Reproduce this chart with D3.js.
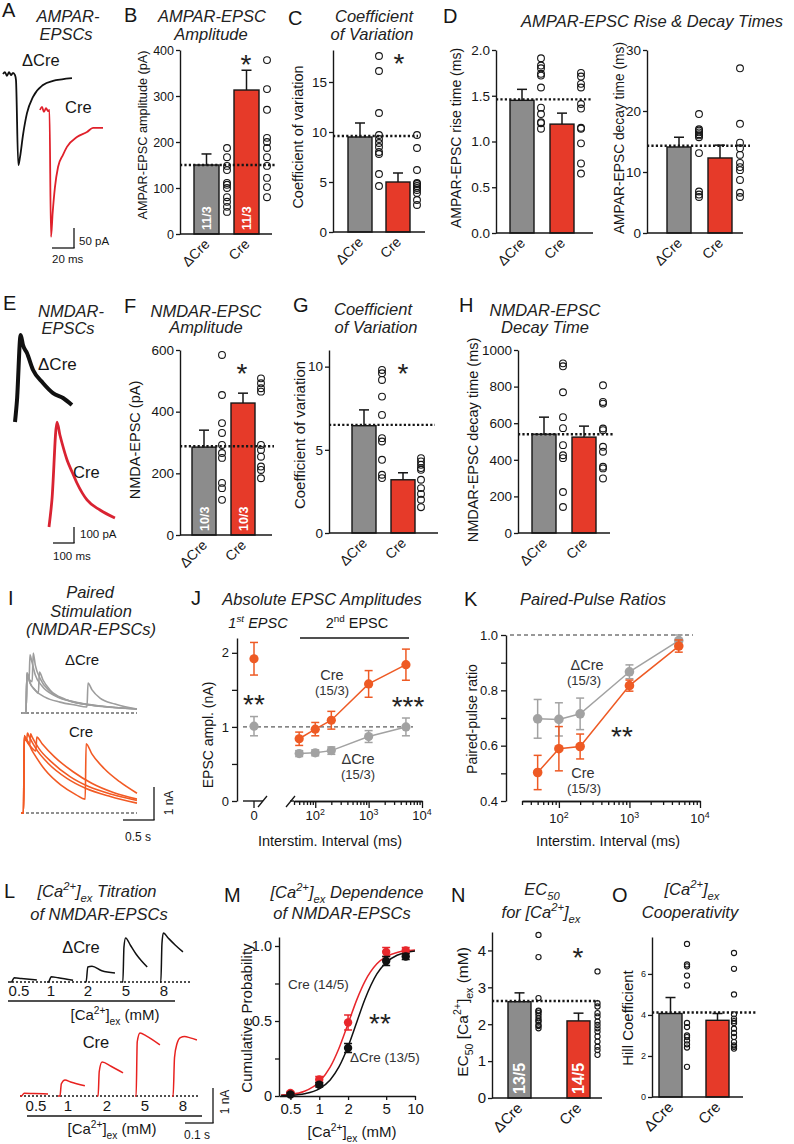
<!DOCTYPE html>
<html><head><meta charset="utf-8">
<script src="https://cdn.jsdelivr.net/npm/d3@7"></script>
<style>
body{margin:0;background:#fff}
svg{display:block}
text{font-family:'Liberation Sans',Arial,Helvetica,sans-serif}
</style>
</head><body>
<script>
// ================= DATA =================
const groups = ["ΔCre", "Cre"];

// B  AMPAR-EPSC amplitude (pA)
const ampaAmpTicks = [0,100,200,300,400];
const ampaAmpMean = [150, 313];
const ampaAmpSem = [24, 43];
const ampaAmpDCre = [187,167,148,139,111,107,100,80,70,59,48];
const ampaAmpCre = [378,315,270,209,200,187,167,148,122,102,80];
// C  coefficient of variation (AMPAR)
const ampaCvTicks = [0,5,10,15];
const ampaCvMean = [9.5, 5.0];
const ampaCvSem = [1.4, 0.9];
const ampaCvDCre = [17.6,16.1,11.9,9.7,9.3,8.9,8.5,8.0,7.8,5.8,4.6];
const ampaCvCre = [9.7,8.4,6.2,4.9,4.8,4.6,4.4,4.2,3.9,3.2,2.7];
// D  rise time (ms)
const riseTicks = [0,0.5,1,1.5,2];
const riseMean = [1.45, 1.19];
const riseSem = [0.12, 0.12];
const riseDCre = [1.91,1.83,1.80,1.74,1.72,1.59,1.37,1.30,1.21,1.20,1.14];
const riseCre = [1.75,1.71,1.63,1.59,1.41,1.36,1.15,1.14,0.98,0.76,0.65];
// D  decay time (ms)
const decayTicks = [0,10,20,30];
const decayMean = [14.1, 12.3];
const decaySem = [1.6, 2.1];
const decayDCre = [19.5,17.0,16.8,16.5,16.2,16.0,15.7,13.1,6.8,6.3,5.9];
const decayCre = [27.0,17.9,14.8,13.9,12.8,11.5,10.8,10.3,8.7,6.6,5.9];
// F  NMDA-EPSC amplitude (pA)
const nmdaAmpTicks = [0,200,400,600];
const nmdaAmpMean = [285, 428];
const nmdaAmpSem = [55, 32];
const nmdaAmpDCre = [584,454,363,331,292,266,250,169,152,114];
const nmdaAmpCre = [508,492,476,465,292,276,254,222,211,184];
// G  coefficient of variation (NMDAR)
const nmdaCvTicks = [0,5,10];
const nmdaCvMean = [6.45, 3.2];
const nmdaCvSem = [0.95, 0.42];
const nmdaCvDCre = [9.8,9.6,9.2,8.2,7.1,5.7,5.5,4.4,3.5,3.3];
const nmdaCvCre = [4.5,4.3,4.1,3.9,3.8,3.2,2.7,2.35,2.0,1.55];
// H  NMDAR-EPSC decay time (ms)
const nmdaDecayTicks = [0,200,400,600,800,1000];
const nmdaDecayMean = [540, 524];
const nmdaDecaySem = [93, 60];
const nmdaDecayDCre = [927,911,769,633,573,480,425,409,224,142];
const nmdaDecayCre = [807,716,707,571,562,471,444,362,353,298];
// J  absolute EPSC amplitudes (nA)
const intervals = [50,100,200,1000,5000];
const firstEpscMean = [1.01, 1.92];   // [ΔCre, Cre]
const firstEpscSem = [0.13, 0.22];
const secondDCre = [0.64,0.65,0.68,0.87,1.00];
const secondDCreSem = [0.04,0.04,0.05,0.08,0.12];
const secondCre = [0.84,0.97,1.09,1.58,1.84];
const secondCreSem = [0.09,0.09,0.12,0.18,0.21];
const logMajor = [100,1000,10000];
// K  paired-pulse ratios
const pprDCre = [0.697,0.695,0.715,0.867,0.98];
const pprDCreSem = [0.07,0.06,0.057,0.025,0.02];
const pprCre = [0.503,0.589,0.597,0.817,0.96];
const pprCreSem = [0.062,0.08,0.045,0.02,0.022];
// M  [Ca2+]ex dependence
const caConc = [0.5,1,2,5,8];
const cumDCre = [0.01,0.075,0.32,0.90,0.93];
const cumDCreSem = [0.01,0.015,0.03,0.03,0.02];
const cumCre = [0.02,0.11,0.49,0.96,0.97];
const cumCreSem = [0.01,0.02,0.05,0.03,0.02];
const fitCa = [0.4,0.5,0.7,1,1.3,1.6,2,2.5,3,4,5,6.5,8,10];
const fitCre = [0.006,0.011,0.032,0.094,0.192,0.315,0.482,0.651,0.764,0.881,0.929,0.957,0.968,0.974];
const fitDCre = [0.003,0.005,0.015,0.048,0.107,0.192,0.330,0.504,0.645,0.814,0.890,0.938,0.956,0.966];
const caTicks = [0.5,1,2,5,10];
// N  EC50 (mM)
const ec50Ticks = [0,1,2,3,4];
const ec50Mean = [2.61, 2.09];
const ec50Sem = [0.24, 0.21];
const ec50DCre = [4.42,3.82,2.71,2.37,2.35,2.30,2.23,2.16,2.10,2.07,1.98,1.95,1.89];
const ec50Cre = [3.43,2.57,2.48,2.30,2.21,2.07,1.98,1.89,1.80,1.67,1.53,1.39,1.30,1.17];
// O  Hill coefficient
const hillTicks = [0,2,4,6];
const hillMean = [4.07, 3.74];
const hillSem = [0.78, 0.33];
const hillDCre = [7.46,6.46,6.37,5.92,5.44,3.61,3.41,3.0,2.92,2.76,2.57,2.41,1.47];
const hillCre = [7.02,6.25,5.0,4.03,3.82,3.7,3.61,3.33,3.12,2.93,2.68,2.52,2.45,2.36];

// Example traces  [time (ms), current]
const ampaTraceDCre = [[0,0],[1.8,5],[3.6,-5],[5.5,5],[7.3,-3],[9.1,3],[10.9,-3],[11.8,-16],[13.9,-240],[15.5,-218],[18.2,-160],[21.8,-103],[27.3,-60],[36.4,-29],[45.5,-18],[53.6,-14],[62.7,-11]];
const ampaTraceCre = [[0,0],[1.8,8],[3.6,-5],[5.5,5],[7.3,-3],[8.6,0],[10,-334],[11.5,-271],[13.6,-203],[16.4,-150],[20.9,-118],[24.5,-97],[33.6,-71],[42.7,-58],[48.2,-47],[57.3,-47]];
const nmdaTraceDCre = [[0,0],[9.5,137],[27,544],[38,481],[57,431],[86,325],[133,244],[181,181],[229,150],[271,106]];
const nmdaTraceCre = [[0,0],[14,169],[38,656],[52,575],[62,525],[86,419],[110,344],[133,275],[181,169],[243,106],[314,56]];
const pairTracesDCre = [
  [[-60,0],[0,0],[16,1.15],[50,1.0],[64,1.76],[95,1.55],[150,1.15],[258,0.82],[468,0.52],[790,0.33],[1194,0.21],[1790,0.12]],
  [[-60,0],[0,0],[16,1.21],[60,1.0],[100,0.95],[116,1.82],[150,1.45],[226,1.05],[387,0.66],[710,0.36],[1194,0.21],[1790,0.12]],
  [[-60,0],[0,0],[16,1.21],[65,0.91],[145,0.70],[200,0.6],[216,1.24],[274,1.0],[387,0.70],[629,0.42],[1032,0.24],[1790,0.12]],
  [[-60,0],[0,0],[16,1.21],[65,0.91],[145,0.70],[306,0.48],[548,0.33],[790,0.24],[984,0.18],[1000,0.91],[1065,0.70],[1194,0.45],[1436,0.27],[1790,0.12]]
];
const pairTracesCre = [
  [[-40,0],[0,0],[12,2.3],[30,2.2],[50,2.2],[64,2.42],[90,2.32],[200,1.95],[400,1.5],[700,1.05],[1000,0.75],[1400,0.5],[1830,0.3]],
  [[-40,0],[0,0],[12,2.35],[60,2.15],[100,2.05],[114,2.4],[140,2.3],[250,1.95],[450,1.55],[750,1.1],[1050,0.8],[1450,0.55],[1830,0.38]],
  [[-40,0],[0,0],[12,2.3],[100,2.05],[200,1.88],[214,2.3],[300,2.1],[500,1.7],[800,1.25],[1100,0.9],[1450,0.62],[1830,0.42]],
  [[-40,0],[0,0],[12,2.3],[150,1.85],[350,1.3],[600,0.85],[850,0.55],[995,0.42],[1010,2.1],[1100,1.8],[1300,1.35],[1550,0.95],[1830,0.6]]
];
const titrationLabels = ["0.5","1","2","5","8"];
const titrationDCre = [
  [[0,0],[5,0],[15,0.12],[40,0.1],[96,0.06]],
  [[0,0],[5,0],[15,0.15],[40,0.12],[93,0.05]],
  [[0,0],[4,0],[10,0.43],[25,0.45],[60,0.32],[107,0.26]],
  [[0,0],[3,0],[7,1.0],[13,1.26],[30,1.05],[50,0.8],[70,0.6],[90,0.43]],
  [[0,0],[3,0],[7,1.1],[12,1.4],[30,1.25],[55,1.05],[82,0.86]]
];
const titrationCre = [
  [[0,0],[5,0],[15,0.08],[50,0.07],[100,0.06]],
  [[0,0],[7,0],[12,0.35],[25,0.46],[45,0.4],[96,0.29]],
  [[0,0],[4,0],[8,0.7],[18,0.97],[50,0.85],[93,0.66]],
  [[0,0],[4,0],[8,1.55],[18,1.8],[40,1.72],[89,1.46]],
  [[0,0],[4,0],[9,1.1],[18,1.5],[30,1.67],[45,1.7],[65,1.66],[89,1.6]]
];

// ================= DRAWING =================
const W = 794, H = 1144;
const BAR_GRAY = "#8c8c8c", BAR_RED = "#e63a29", INK = "#161616";
const ORANGE = "#ee5a24", LGRAY = "#a2a2a2";
const svg = d3.select("body").append("svg").attr("width", W).attr("height", H);
svg.append("rect").attr("width", W).attr("height", H).attr("fill", "#fff");

function txt(x, y, s, o = {}) {
  const t = svg.append("text").attr("x", x).attr("y", y).text(s)
    .attr("font-size", o.size || 13).attr("text-anchor", o.anchor || "start")
    .attr("fill", o.fill || INK);
  if (o.italic) t.attr("font-style", "italic");
  if (o.bold) t.attr("font-weight", "bold");
  if (o.rotate != null) t.attr("transform", `rotate(${o.rotate},${x},${y})`);
  return t;
}
function rich(x, y, parts, o = {}) {
  const size = o.size || 13;
  const t = svg.append("text").attr("x", x).attr("y", y).attr("font-size", size)
    .attr("text-anchor", o.anchor || "start").attr("fill", o.fill || INK);
  if (o.italic) t.attr("font-style", "italic");
  if (o.rotate != null) t.attr("transform", `rotate(${o.rotate},${x},${y})`);
  let shift = 0;
  parts.forEach(p => {
    const s = p[0], k = p[1];
    const target = k === "sup" ? -0.42 * size : k === "sub" ? 0.3 * size : 0;
    const ts = t.append("tspan").text(s).attr("dy", target - shift);
    if (k) ts.attr("font-size", size * 0.68);
    shift = target;
  });
  return t;
}
const CA = [["[Ca"], ["2+", "sup"], ["]"], ["ex", "sub"]];
function letter(x, y, s) { txt(x, y, s, { size: 20 }); }
function title(x, y, s, size = 16.5) { txt(x, y, s, { size, italic: true, anchor: "middle", fill: "#222" }); }
function stars(cx, cy, n, size = 28) { txt(cx, cy + size * 0.56, "*".repeat(n), { size, anchor: "middle", fill: "#222" }); }
function styleAxis(ga, fs) {
  ga.attr("font-family", null).attr("font-size", null);
  ga.select(".domain").attr("stroke", INK).attr("stroke-width", 1.4);
  ga.selectAll(".tick line").attr("stroke", INK).attr("stroke-width", 1.3);
  ga.selectAll(".tick text").attr("font-size", fs).attr("fill", INK);
}
function line(x1, y1, x2, y2, o = {}) {
  const l = svg.append("line").attr("x1", x1).attr("y1", y1).attr("x2", x2).attr("y2", y2)
    .attr("stroke", o.stroke || INK).attr("stroke-width", o.w || 1.4);
  if (o.dash) l.attr("stroke-dasharray", o.dash);
  return l;
}

function barPanel(o) {
  const y = d3.scaleLinear().domain(o.domain).range([o.yB, o.yT]);
  const x = d3.scaleBand().domain(groups).range([o.first, o.first + 2 * o.step]);
  const g = svg.append("g");
  const bc = gn => x(gn) + o.barW / 2;
  g.selectAll("rect").data(o.mean).join("rect")
    .attr("x", (d, i) => x(groups[i])).attr("width", o.barW)
    .attr("y", d => y(d)).attr("height", d => y(0) - y(d))
    .attr("fill", (d, i) => i === 0 ? BAR_GRAY : BAR_RED)
    .attr("stroke", INK).attr("stroke-width", 1.4);
  o.mean.forEach((m, i) => {
    const cx = bc(groups[i]), top = y(m + o.sem[i]);
    g.append("line").attr("x1", cx).attr("x2", cx).attr("y1", y(m)).attr("y2", top).attr("stroke", INK).attr("stroke-width", 1.5);
    g.append("line").attr("x1", cx - 5).attr("x2", cx + 5).attr("y1", top).attr("y2", top).attr("stroke", INK).attr("stroke-width", 1.5);
  });
  o.pts.forEach((arr, i) => {
    const cx = x(groups[i]) + o.circOff;
    g.selectAll(null).data(arr).join("circle").attr("cx", cx).attr("cy", d => y(d)).attr("r", o.r || 3.4)
      .attr("fill", "none").attr("stroke", INK).attr("stroke-width", 1.1);
  });
  g.append("line").attr("x1", o.axisX).attr("x2", o.dotEnd).attr("y1", y(o.dot)).attr("y2", y(o.dot))
    .attr("stroke", INK).attr("stroke-width", 2.4).attr("stroke-dasharray", "2.2,2.2");
  const ga = g.append("g").attr("transform", `translate(${o.axisX},0)`)
    .call(d3.axisLeft(y).tickValues(o.ticks).tickSize(4).tickSizeOuter(0).tickPadding(2).tickFormat(o.fmt || (d => d)));
  styleAxis(ga, o.tickSize || 13.5);
  g.append("line").attr("x1", o.axisX).attr("x2", o.xEnd).attr("y1", o.yB).attr("y2", o.yB).attr("stroke", INK).attr("stroke-width", 1.4);
  groups.forEach(gn => txt(bc(gn) + 4, o.yB + 11, gn, { size: o.glSize || 14, anchor: "end", rotate: -45 }));
  if (o.barText) o.barText.forEach((s, i) => {
    const fs = o.barTextSize || 12.5;
    txt(bc(groups[i]) + fs * 0.36, o.yB - 4, s, { size: fs, bold: true, fill: "#fff", rotate: -90 });
  });
  if (o.ytitle) txt(o.ytx, o.yty, o.ytitle, { size: o.ytSize || 14.5, anchor: "middle", rotate: -90 });
  return { x, y };
}

// ---------- Row 1 ----------
letter(2, 17, "A"); title(68, 22, "AMPAR-"); title(66, 40, "EPSCs");
{
  const xK = d3.scaleLinear().domain([0, 20]).range([3, 25]);
  const xR = d3.scaleLinear().domain([0, 20]).range([40, 62]);
  const yK = d3.scaleLinear().domain([0, -50]).range([74, 93]);
  const yR = d3.scaleLinear().domain([0, -50]).range([110, 129]);
  svg.append("path").attr("d", d3.line().x(d => xK(d[0])).y(d => yK(d[1])).curve(d3.curveMonotoneX)(ampaTraceDCre))
    .attr("fill", "none").attr("stroke", "#111").attr("stroke-width", 1.8);
  svg.append("path").attr("d", d3.line().x(d => xR(d[0])).y(d => yR(d[1])).curve(d3.curveMonotoneX)(ampaTraceCre))
    .attr("fill", "none").attr("stroke", "#e0202a").attr("stroke-width", 1.8);
  txt(22, 66, "ΔCre", { size: 16.5 }); txt(65, 113, "Cre", { size: 16.5 });
  line(74, 228, 74, 248, { w: 1.3 }); line(52, 248, 74.6, 248, { w: 1.3 });
  txt(79, 245, "50 pA", { size: 11.5 }); txt(52, 263, "20 ms", { size: 11.5 });
}

letter(124, 22, "B"); title(212, 22, "AMPAR-EPSC"); title(211, 40, "Amplitude");
barPanel({ axisX: 180, yB: 234, yT: 50, domain: [0, 400], ticks: ampaAmpTicks, xEnd: 272, first: 194, step: 40, barW: 25, circOff: 33,
  mean: ampaAmpMean, sem: ampaAmpSem, pts: [ampaAmpDCre, ampaAmpCre], dot: 150, dotEnd: 275, barText: ["11/3", "11/3"], barTextSize: 12.5,
  ytitle: "AMPAR-EPSC amplitude (pA)", ytx: 147, yty: 135, ytSize: 12.7, tickSize: 12.5 });
stars(246, 58, 1);

letter(288, 25, "C"); title(374, 22, "Coefficient"); title(372, 40, "of Variation");
barPanel({ axisX: 333, yB: 232, yT: 50, domain: [0, 18.2], ticks: ampaCvTicks, xEnd: 425, first: 348, step: 38, barW: 24, circOff: 31,
  mean: ampaCvMean, sem: ampaCvSem, pts: [ampaCvDCre, ampaCvCre], dot: 9.6, dotEnd: 418,
  ytitle: "Coefficient of variation", ytx: 303, yty: 137, ytSize: 14.5 });
stars(399, 57, 1);

letter(443, 23, "D"); title(652, 27, "AMPAR-EPSC Rise & Decay Times");
barPanel({ axisX: 496, yB: 233, yT: 50, domain: [0, 2], ticks: riseTicks, fmt: d3.format(".1f"), xEnd: 593, first: 510, step: 40, barW: 24, circOff: 31,
  mean: riseMean, sem: riseSem, pts: [riseDCre, riseCre], dot: 1.46, dotEnd: 592,
  ytitle: "AMPAR-EPSC rise time (ms)", ytx: 461, yty: 138, ytSize: 14 });
barPanel({ axisX: 647, yB: 233, yT: 50, domain: [0, 30], ticks: decayTicks, xEnd: 743, first: 667, step: 41, barW: 24, circOff: 32,
  mean: decayMean, sem: decaySem, pts: [decayDCre, decayCre], dot: 14.3, dotEnd: 750,
  ytitle: "AMPAR-EPSC decay time (ms)", ytx: 624, yty: 138, ytSize: 13.8 });

// ---------- Row 2 ----------
letter(3, 310, "E"); title(71, 317, "NMDAR-"); title(68, 334, "EPSCs");
{
  const xK = d3.scaleLinear().domain([0, 100]).range([15, 36]);
  const xR = d3.scaleLinear().domain([0, 100]).range([49, 70]);
  const yK = d3.scaleLinear().domain([0, 100]).range([422, 406]);
  const yR = d3.scaleLinear().domain([0, 100]).range([527, 511]);
  svg.append("path").attr("d", d3.line().x(d => xK(d[0])).y(d => yK(d[1])).curve(d3.curveMonotoneX)(nmdaTraceDCre))
    .attr("fill", "none").attr("stroke", "#111").attr("stroke-width", 4).attr("stroke-linejoin", "round");
  svg.append("path").attr("d", d3.line().x(d => xR(d[0])).y(d => yR(d[1])).curve(d3.curveMonotoneX)(nmdaTraceCre))
    .attr("fill", "none").attr("stroke", "#d92332").attr("stroke-width", 2.8).attr("stroke-linejoin", "round");
  txt(38, 370, "ΔCre", { size: 17 }); txt(73, 478, "Cre", { size: 16.5 });
  line(74, 527, 74, 543, { w: 1.3 }); line(53, 543, 74.6, 543, { w: 1.3 });
  txt(80, 538, "100 pA", { size: 11.5 }); txt(53, 560, "100 ms", { size: 11.5 });
}

letter(124, 313, "F"); title(206, 317, "NMDAR-EPSC"); title(206, 333, "Amplitude");
barPanel({ axisX: 180, yB: 535, yT: 350, domain: [0, 600], ticks: nmdaAmpTicks, xEnd: 272, first: 192, step: 39, barW: 24, circOff: 30,
  mean: nmdaAmpMean, sem: nmdaAmpSem, pts: [nmdaAmpDCre, nmdaAmpCre], dot: 288, dotEnd: 274, barText: ["10/3", "10/3"], barTextSize: 12.5,
  ytitle: "NMDA-EPSC (pA)", ytx: 140, yty: 440, ytSize: 14.5 });
stars(242, 367, 1);

letter(293, 312, "G"); title(373, 315, "Coefficient"); title(376, 333, "of Variation");
barPanel({ axisX: 329, yB: 533, yT: 350, domain: [0, 11], ticks: nmdaCvTicks, xEnd: 438, first: 352, step: 39, barW: 24, circOff: 30,
  mean: nmdaCvMean, sem: nmdaCvSem, pts: [nmdaCvDCre, nmdaCvCre], dot: 6.5, dotEnd: 435,
  ytitle: "Coefficient of variation", ytx: 305, yty: 435, ytSize: 15 });
stars(403, 367, 1);

letter(459, 312, "H"); title(545, 316, "NMDAR-EPSC"); title(545, 333, "Decay Time");
barPanel({ axisX: 518, yB: 533, yT: 350, domain: [0, 1000], ticks: nmdaDecayTicks, xEnd: 610, first: 532, step: 40, barW: 24, circOff: 31,
  mean: nmdaDecayMean, sem: nmdaDecaySem, pts: [nmdaDecayDCre, nmdaDecayCre], dot: 540, dotEnd: 613,
  ytitle: "NMDAR-EPSC decay time (ms)", ytx: 478, yty: 440, ytSize: 14.5 });

// ---------- Row 3 ----------
letter(8, 605, "I"); title(90, 598, "Paired"); title(91, 617, "Stimulation"); title(91, 635, "(NMDAR-EPSCs)");
{
  const xG = d3.scaleLinear().domain([0, 1000]).range([26, 88]);
  const xR = d3.scaleLinear().domain([0, 1000]).range([23.5, 85.5]);
  const yG = d3.scaleLinear().domain([0, 1]).range([713, 680]);
  const yR = d3.scaleLinear().domain([0, 1]).range([813, 780]);
  line(21, 713, 137, 713, { w: 1.2, dash: "3,2", stroke: "#222" });
  line(21, 813, 137, 813, { w: 1.2, dash: "3,2", stroke: "#222" });
  pairTracesDCre.forEach(tr => svg.append("path").attr("d", d3.line().x(d => xG(d[0])).y(d => yG(d[1])).curve(d3.curveMonotoneX)(tr))
    .attr("fill", "none").attr("stroke", "#9d9d9d").attr("stroke-width", 1.6));
  pairTracesCre.forEach(tr => svg.append("path").attr("d", d3.line().x(d => xR(d[0])).y(d => yR(d[1])).curve(d3.curveMonotoneX)(tr))
    .attr("fill", "none").attr("stroke", "#f25a24").attr("stroke-width", 1.6));
  txt(82, 665, "ΔCre", { size: 15, anchor: "middle" }); txt(81, 737, "Cre", { size: 15, anchor: "middle" });
  line(154, 787, 154, 820, { w: 1.3 }); line(123, 820, 154.6, 820, { w: 1.3 });
  txt(173, 803, "1 nA", { size: 12, anchor: "middle", rotate: -90 }); txt(138, 841, "0.5 s", { size: 12, anchor: "middle" });
}

// J
letter(191, 605, "J"); title(322, 605, "Absolute EPSC Amplitudes");
rich(258, 628, [["1"], ["st", "sup"], [" EPSC"]], { size: 14.5, italic: true, anchor: "middle" });
rich(357, 628, [["2"], ["nd", "sup"], [" EPSC"]], { size: 14.5, anchor: "middle" });
line(300, 638, 409, 638, { w: 1.3 });
function logAxis(sx, yPix, minors, fs, labelY) {
  const g1 = svg.append("g").attr("transform", `translate(0,${yPix})`)
    .call(d3.axisBottom(sx).tickValues(minors).tickSize(4).tickSizeOuter(0).tickFormat(""));
  styleAxis(g1, fs);
  const g2 = svg.append("g").attr("transform", `translate(0,${yPix})`)
    .call(d3.axisBottom(sx).tickValues(logMajor).tickSize(7).tickSizeOuter(0).tickFormat(""));
  styleAxis(g2, fs);
  logMajor.forEach(v => rich(sx(v), labelY, [["10"], [String(Math.round(Math.log10(v))), "sup"]], { size: fs, anchor: "middle" }));
}
function series(sx, sy, vals, sems, color, r) {
  const g = svg.append("g");
  g.append("path").attr("d", d3.line().x((d, i) => sx(intervals[i])).y(d => sy(d))(vals))
    .attr("fill", "none").attr("stroke", color).attr("stroke-width", 1.5);
  vals.forEach((v, i) => {
    const cx = sx(intervals[i]);
    g.append("line").attr("x1", cx).attr("x2", cx).attr("y1", sy(v - sems[i])).attr("y2", sy(v + sems[i])).attr("stroke", color).attr("stroke-width", 1.5);
    [v - sems[i], v + sems[i]].forEach(e => g.append("line").attr("x1", cx - 4).attr("x2", cx + 4).attr("y1", sy(e)).attr("y2", sy(e)).attr("stroke", color).attr("stroke-width", 1.5));
  });
  g.selectAll("circle").data(vals).join("circle").attr("cx", (d, i) => sx(intervals[i])).attr("cy", d => sy(d)).attr("r", r).attr("fill", color);
}
{
  const jy = d3.scaleLinear().domain([0, 2.2]).range([801, 638]);
  const jx = d3.scaleLog().domain([40, 10000]).range([294, 422]);
  const j0 = d3.scaleLinear().domain([-1, 1]).range([243, 265]);
  const gy = svg.append("g").attr("transform", "translate(237,0)")
    .call(d3.axisLeft(jy).tickValues([0, 0.5, 1, 1.5, 2]).tickSize(5).tickSizeOuter(0).tickPadding(3).tickFormat(d => Number.isInteger(d) ? d : ""));
  styleAxis(gy, 13);
  line(243, 801, 263, 801); line(j0(0), 801, j0(0), 808, { w: 1.3 });
  txt(j0(0), 820, "0", { size: 13, anchor: "middle" });
  line(258, 807, 267, 796, { w: 1.3 }); line(286, 807, 295, 796, { w: 1.3 });
  line(290, 801, 294, 801);
  const minors = [40, 50, 60, 70, 80, 90, 200, 300, 400, 500, 600, 700, 800, 900, 2000, 3000, 4000, 5000, 6000, 7000, 8000, 9000];
  logAxis(jx, 801, minors, 13, 820);
  line(243, jy(1), 413, jy(1), { w: 1, dash: "4,3", stroke: "#333" });
  series(jx, jy, secondDCre, secondDCreSem, LGRAY, 4.6);
  series(jx, jy, secondCre, secondCreSem, ORANGE, 4.6);
  [LGRAY, ORANGE].forEach((c, i) => {
    const cx = j0(0), v = firstEpscMean[i], e = firstEpscSem[i];
    line(cx, jy(v - e), cx, jy(v + e), { stroke: c, w: 1.5 });
    line(cx - 4, jy(v - e), cx + 4, jy(v - e), { stroke: c, w: 1.5 });
    line(cx - 4, jy(v + e), cx + 4, jy(v + e), { stroke: c, w: 1.5 });
    svg.append("circle").attr("cx", cx).attr("cy", jy(v)).attr("r", 4.6).attr("fill", c);
  });
  txt(213, 735, "EPSC ampl. (nA)", { size: 14, anchor: "middle", rotate: -90 });
  txt(330, 846, "Interstim. Interval (ms)", { size: 14.5, anchor: "middle" });
  txt(332, 680, "Cre", { size: 14.5, anchor: "middle", fill: "#333" });
  txt(332, 695, "(15/3)", { size: 13, anchor: "middle", fill: "#333" });
  txt(358, 764, "ΔCre", { size: 14.5, anchor: "middle", fill: "#333" });
  txt(358, 779, "(15/3)", { size: 13, anchor: "middle", fill: "#333" });
  stars(254, 698, 2); stars(408, 700, 3);
}

// K
letter(464, 606, "K"); title(593, 605, "Paired-Pulse Ratios");
{
  const ky = d3.scaleLinear().domain([0.4, 1.0]).range([801, 635]);
  const kx = d3.scaleLog().domain([30, 10000]).range([522, 700]);
  const gy = svg.append("g").attr("transform", "translate(506,0)")
    .call(d3.axisLeft(ky).tickValues([0.4, 0.5, 0.6, 0.7, 0.8, 0.9, 1.0]).tickSize(5).tickSizeOuter(0).tickPadding(3)
      .tickFormat((d, i) => i % 2 === 0 ? d.toFixed(1) : ""));
  styleAxis(gy, 13);
  const minors = [30, 40, 50, 60, 70, 80, 90, 200, 300, 400, 500, 600, 700, 800, 900, 2000, 3000, 4000, 5000, 6000, 7000, 8000, 9000];
  logAxis(kx, 801, minors, 13, 823);
  line(510, ky(1), 693, ky(1), { w: 1, dash: "4,3", stroke: "#333" });
  series(kx, ky, pprDCre, pprDCreSem, LGRAY, 4.8);
  series(kx, ky, pprCre, pprCreSem, ORANGE, 4.8);
  txt(477, 719, "Paired-pulse ratio", { size: 14, anchor: "middle", rotate: -90 });
  txt(608, 846, "Interstim. Interval (ms)", { size: 14.5, anchor: "middle" });
  txt(587, 670, "ΔCre", { size: 14.5, anchor: "middle", fill: "#333" });
  txt(584, 685, "(15/3)", { size: 13, anchor: "middle", fill: "#333" });
  txt(583, 778, "Cre", { size: 14.5, anchor: "middle", fill: "#333" });
  txt(584, 793, "(15/3)", { size: 13, anchor: "middle", fill: "#333" });
  stars(622, 730, 2);
}

// ---------- Row 4 ----------
letter(4, 898, "L");
rich(97, 897, CA.concat([[" Titration"]]), { size: 16.5, italic: true, anchor: "middle", fill: "#222" });
title(99, 920, "of NMDAR-EPSCs");
{
  const lt = d3.scaleLinear().domain([0, 100]).range([0, 28]);
  const yK = d3.scaleLinear().domain([0, 1]).range([982, 947]);
  const yR = d3.scaleLinear().domain([0, 1]).range([1096, 1061]);
  const offK = [10, 47, 85, 122, 160], offR = [20, 58, 97, 135, 172];
  const labK = [19, 51, 88, 126, 164], labR = [36, 68, 107, 145, 183];
  line(8, 982, 190, 982, { w: 1.3, dash: "2,2" });
  line(20, 1096, 200, 1096, { w: 1.3, dash: "2,2" });
  titrationDCre.forEach((tr, i) => svg.append("path")
    .attr("d", d3.line().x(d => offK[i] + lt(d[0])).y(d => yK(d[1])).curve(d3.curveMonotoneX)(tr))
    .attr("fill", "none").attr("stroke", "#111").attr("stroke-width", 1.5));
  titrationCre.forEach((tr, i) => svg.append("path")
    .attr("d", d3.line().x(d => offR[i] + lt(d[0])).y(d => yR(d[1])).curve(d3.curveMonotoneX)(tr))
    .attr("fill", "none").attr("stroke", "#e8211f").attr("stroke-width", 1.5));
  titrationLabels.forEach((s, i) => { txt(labK[i], 996, s, { size: 15, anchor: "middle" }); txt(labR[i], 1111, s, { size: 15, anchor: "middle" }); });
  line(8, 1001, 175, 1001, { w: 1.5 }); line(27, 1116, 202, 1116, { w: 1.5 });
  rich(115, 1020, CA.concat([[" (mM)"]]), { size: 15, anchor: "middle" });
  rich(112, 1134, CA.concat([[" (mM)"]]), { size: 15, anchor: "middle" });
  txt(81, 953, "ΔCre", { size: 16.5, anchor: "middle" });
  txt(96, 1048, "Cre", { size: 16.5, anchor: "middle" });
  line(213, 1088, 213, 1123, { w: 1.3 }); line(185, 1123, 213.6, 1123, { w: 1.3 });
  txt(229, 1102, "1 nA", { size: 12, anchor: "middle", rotate: -90 });
  txt(197, 1139, "0.1 s", { size: 12, anchor: "middle" });
}

// M
letter(224, 902, "M");
rich(347, 898, CA.concat([[" Dependence"]]), { size: 16.5, italic: true, anchor: "middle", fill: "#222" });
title(342, 919, "of NMDAR-EPSCs");
{
  const mx = d3.scaleLog().domain([0.38, 10]).range([279, 415]);
  const my = d3.scaleLinear().domain([0, 1.06]).range([1096, 937]);
  const gy = svg.append("g").attr("transform", "translate(279,0)")
    .call(d3.axisLeft(my).tickValues([0, 0.25, 0.5, 0.75, 1.0]).tickSize(4).tickSizeOuter(0).tickPadding(3)
      .tickFormat((d, i) => i === 0 ? "0" : i % 2 === 0 ? d.toFixed(1) : ""));
  styleAxis(gy, 14.5);
  const gx = svg.append("g").attr("transform", "translate(0,1096)")
    .call(d3.axisBottom(mx).tickValues(caTicks).tickSize(4).tickSizeOuter(0).tickPadding(3).tickFormat(d3.format("~g")));
  styleAxis(gx, 15);
  const fl = d3.line().x((d, i) => mx(fitCa[i])).y(d => my(d)).curve(d3.curveMonotoneX);
  svg.append("path").attr("d", fl(fitCre)).attr("fill", "none").attr("stroke", "#e8262b").attr("stroke-width", 1.5);
  svg.append("path").attr("d", fl(fitDCre)).attr("fill", "none").attr("stroke", "#111").attr("stroke-width", 1.5);
  [[cumCre, cumCreSem, "#e8262b"], [cumDCre, cumDCreSem, "#111"]].forEach(([vals, sems, c]) => {
    vals.forEach((v, i) => {
      const cx = mx(caConc[i]);
      line(cx, my(v - sems[i]), cx, my(v + sems[i]), { stroke: c, w: 1.5 });
      line(cx - 4, my(v + sems[i]), cx + 4, my(v + sems[i]), { stroke: c, w: 1.5 });
      line(cx - 4, my(v - sems[i]), cx + 4, my(v - sems[i]), { stroke: c, w: 1.5 });
    });
    svg.append("g").selectAll("circle").data(vals).join("circle")
      .attr("cx", (d, i) => mx(caConc[i])).attr("cy", d => my(d)).attr("r", 4.2).attr("fill", c);
  });
  txt(252, 1018, "Cumulative Probability", { size: 15, anchor: "middle", rotate: -90 });
  rich(352, 1137, CA.concat([[" (mM)"]]), { size: 15, anchor: "middle" });
  txt(288, 989, "Cre (14/5)", { size: 13.5, fill: "#333" });
  txt(350, 1062, "ΔCre (13/5)", { size: 13.5, fill: "#333" });
  stars(380, 1017, 2);
}

// N
letter(451, 902, "N");
rich(542, 895, [["EC"], ["50", "sub"]], { size: 16.5, italic: true, anchor: "middle", fill: "#222" });
rich(541, 918, [["for "]].concat(CA), { size: 16.5, italic: true, anchor: "middle", fill: "#222" });
barPanel({ axisX: 492, yB: 1098, yT: 932, domain: [0, 4.5], ticks: ec50Ticks, xEnd: 602, first: 508, step: 59, barW: 23, circOff: 30.5,
  mean: ec50Mean, sem: ec50Sem, pts: [ec50DCre, ec50Cre], dot: 2.63, dotEnd: 598, barText: ["13/5", "14/5"], barTextSize: 16,
  r: 2.6, tickSize: 15, glSize: 15 });
rich(468, 1012, [["EC"], ["50", "sub"], [" [Ca"], ["2+", "sup"], ["]"], ["ex", "sub"], [" (mM)"]], { size: 15.5, anchor: "middle", rotate: -90 });
stars(578, 951, 1);

// O
letter(612, 902, "O");
rich(692, 895, CA, { size: 16.5, italic: true, anchor: "middle", fill: "#222" });
title(690, 918, "Cooperativity");
barPanel({ axisX: 652, yB: 1097, yT: 937, domain: [0, 7.8], ticks: hillTicks, xEnd: 743, first: 659, step: 47, barW: 23, circOff: 28,
  mean: hillMean, sem: hillSem, pts: [hillDCre, hillCre], dot: 4.12, dotEnd: 757,
  r: 2.6, tickSize: 9, glSize: 15, ytitle: "Hill Coefficient", ytx: 633, yty: 1018, ytSize: 15 });
</script>
</body></html>
